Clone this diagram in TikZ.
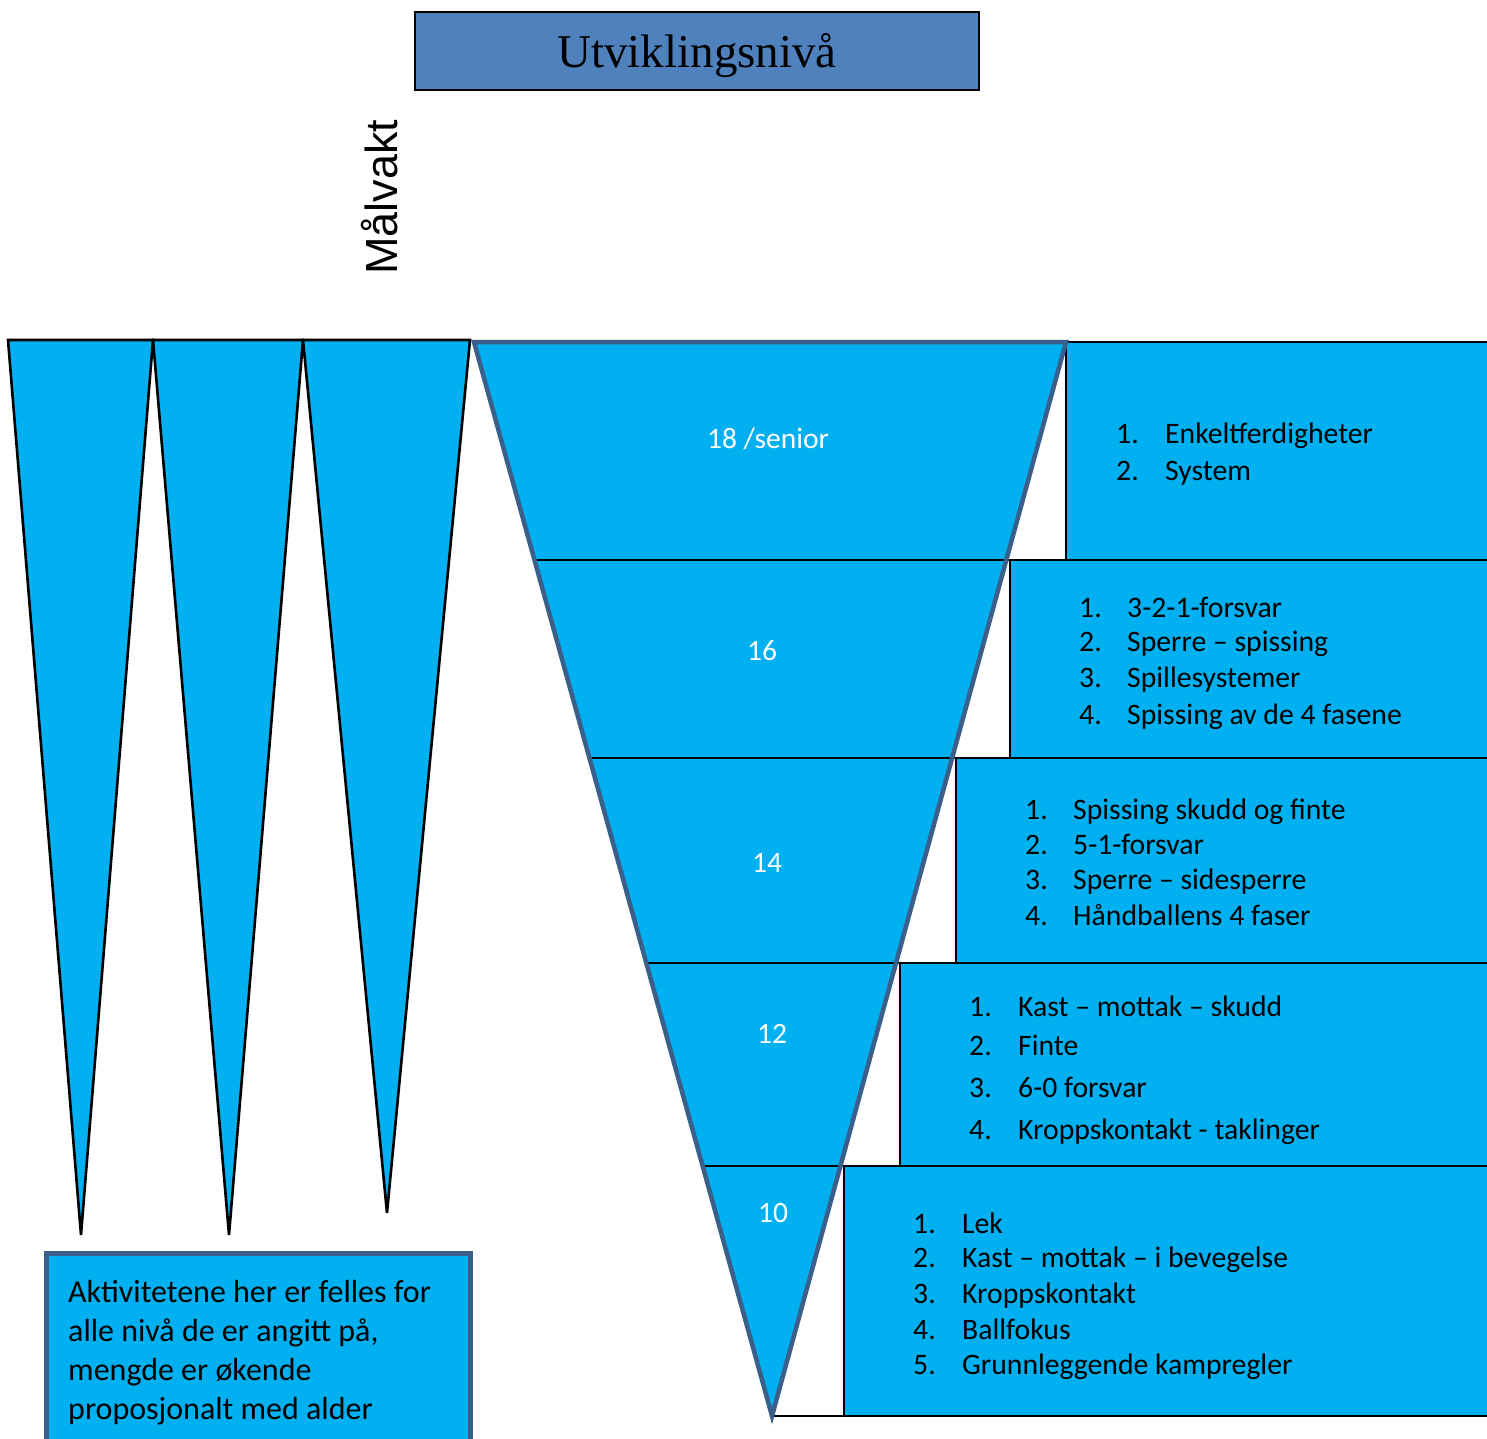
\documentclass[tikz,border=0pt]{standalone}
\usepackage{fontspec}
\setmainfont{Carlito}
\newfontfamily\timesf{Liberation Serif}
\newfontfamily\arialf{Liberation Sans}
\definecolor{cyanfill}{HTML}{00B0F0}
\definecolor{titlefill}{HTML}{4F81BD}
\definecolor{slateline}{HTML}{3A5F8B}
\begin{document}
\begin{tikzpicture}[x=1pt,y=-1pt,
  spike/.style={fill=cyanfill,draw=black,line width=2.6pt},
  thinline/.style={draw=black,line width=2pt},
  funnelline/.style={draw=slateline,line width=4.5pt,line join=miter},
  lvl/.style={text=white,font=\fontsize{29.5}{35}\selectfont,anchor=base,inner sep=0pt},
  item/.style={text=black,font=\fontsize{29.7}{35}\selectfont,anchor=base west,inner sep=0pt},
  note/.style={text=black,font=\fontsize{32}{39}\selectfont,anchor=base west,inner sep=0pt}
]
\useasboundingbox (0,0) rectangle (1487,1438);
\clip (0,0) rectangle (1487,1438);

% title
\node[draw=black,line width=2pt,fill=titlefill,minimum width=564pt,minimum height=78pt,inner sep=0pt,anchor=north west] (title) at (414,11) {};
\node[font=\timesf\fontsize{47}{56}\selectfont,anchor=base,inner sep=0pt] (titletext) at (697,67) {Utviklingsnivå};

% Målvakt
\node[font=\arialf\fontsize{45}{52}\selectfont,anchor=base,rotate=90,inner sep=0pt] (malvakt) at (397,197) {Målvakt};

% left spikes
\coordinate (s1a) at (8,340);   \coordinate (s1b) at (153,340); \coordinate (s1t) at (81,1235);
\coordinate (s2a) at (153,340); \coordinate (s2b) at (303,340); \coordinate (s2t) at (229,1235);
\coordinate (s3a) at (303,340); \coordinate (s3b) at (470,340); \coordinate (s3t) at (387,1213);
\draw[spike] (s1a) -- (s1b) -- (s1t) -- cycle;
\draw[spike] (s2a) -- (s2b) -- (s2t) -- cycle;
\draw[spike] (s3a) -- (s3b) -- (s3t) -- cycle;

% funnel
\coordinate (fTL) at (474,342);
\coordinate (fTR) at (1066,342);
\coordinate (fB) at (772,1416);
\fill[cyanfill] (fTL) -- (fTR) -- (fB) -- cycle;

% boxes
\fill[cyanfill] (1066,342) rectangle (1490,560);
\fill[cyanfill] (1010,560) rectangle (1490,758);
\fill[cyanfill] (956,758) rectangle (1490,963);
\fill[cyanfill] (900,963) rectangle (1490,1166);
\fill[cyanfill] (844,1166) rectangle (1490,1416);

% horizontal lines
\draw[thinline] (1066,342) -- (1490,342);
\draw[thinline] (534.5,560) -- (1490,560);
\draw[thinline] (589.4,758) -- (1490,758);
\draw[thinline] (646.3,963) -- (1490,963);
\draw[thinline] (702.6,1166) -- (1490,1166);
\draw[thinline] (772,1416) -- (1490,1416);
% vertical box edges
\draw[thinline] (1066,342) -- (1066,560);
\draw[thinline] (1010,560) -- (1010,758);
\draw[thinline] (956,758) -- (956,963);
\draw[thinline] (900,963) -- (900,1166);
\draw[thinline] (844,1166) -- (844,1416);

% funnel outline
\draw[funnelline] (fTL) -- (fTR) -- (fB) -- cycle;

% level labels
\node[lvl] (l18) at (768,448) {18 /senior};
\node[lvl] (l16) at (762,660) {16};
\node[lvl] (l14) at (767,872) {14};
\node[lvl] (l12) at (772,1043) {12};
\node[lvl] (l10) at (773,1222) {10};

% box 1
\node[item] (a1n) at (1116,443) {1.}; \node[item] (a1t) at (1165,443) {Enkeltferdigheter};
\node[item] (a2n) at (1116,480) {2.}; \node[item] (a2t) at (1165,480) {System};
% box 2
\node[item] (b1n) at (1079,617) {1.}; \node[item] (b1t) at (1127,617) {3-2-1-forsvar};
\node[item] (b2n) at (1079,651) {2.}; \node[item] (b2t) at (1127,651) {Sperre – spissing};
\node[item] (b3n) at (1079,687) {3.}; \node[item] (b3t) at (1127,687) {Spillesystemer};
\node[item] (b4n) at (1079,724) {4.}; \node[item] (b4t) at (1127,724) {Spissing av de 4 fasene};
% box 3
\node[item] (c1n) at (1025,819) {1.}; \node[item] (c1t) at (1073,819) {Spissing skudd og finte};
\node[item] (c2n) at (1025,854) {2.}; \node[item] (c2t) at (1073,854) {5-1-forsvar};
\node[item] (c3n) at (1025,889) {3.}; \node[item] (c3t) at (1073,889) {Sperre – sidesperre};
\node[item] (c4n) at (1025,925) {4.}; \node[item] (c4t) at (1073,925) {Håndballens 4 faser};
% box 4
\node[item] (d1n) at (969,1016) {1.}; \node[item] (d1t) at (1018,1016) {Kast – mottak – skudd};
\node[item] (d2n) at (969,1055) {2.}; \node[item] (d2t) at (1018,1055) {Finte};
\node[item] (d3n) at (969,1097) {3.}; \node[item] (d3t) at (1018,1097) {6-0 forsvar};
\node[item] (d4n) at (969,1139) {4.}; \node[item] (d4t) at (1018,1139) {Kroppskontakt - taklinger};
% box 5
\node[item] (e1n) at (913,1233) {1.}; \node[item] (e1t) at (962,1233) {Lek};
\node[item] (e2n) at (913,1267) {2.}; \node[item] (e2t) at (962,1267) {Kast – mottak – i bevegelse};
\node[item] (e3n) at (913,1303) {3.}; \node[item] (e3t) at (962,1303) {Kroppskontakt};
\node[item] (e4n) at (913,1339) {4.}; \node[item] (e4t) at (962,1339) {Ballfokus};
\node[item] (e5n) at (913,1374) {5.}; \node[item] (e5t) at (962,1374) {Grunnleggende kampregler};

% note box
\draw[fill=cyanfill,draw=slateline,line width=5pt] (46,1253) rectangle (470,1450);
\node[note] (n1) at (68,1302) {Aktivitetene her er felles for};
\node[note] (n2) at (68,1341) {alle nivå de er angitt på,};
\node[note] (n3) at (68,1380) {mengde er økende};
\node[note] (n4) at (68,1419) {proposjonalt med alder};
\end{tikzpicture}
\end{document}
